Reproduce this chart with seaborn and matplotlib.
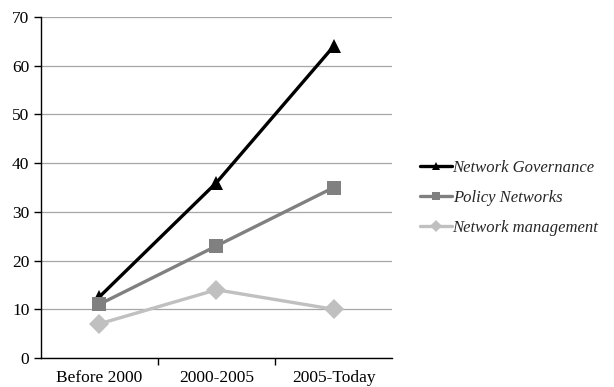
import pandas as pd
import matplotlib
matplotlib.use("Agg")
import matplotlib.pyplot as plt
import seaborn as sns

# ==================== DATA ====================

periods = ["Before 2000", "2000-2005", "2005-Today"]
series_names = ["Network Governance", "Policy Networks", "Network management"]
network_governance = [12.5, 36, 64]
policy_networks = [11, 23, 35]
network_management = [7, 14, 10]

colors = ["#000000", "#808080", "#c0c0c0"]
markers = ["^", "s", "D"]

rows = []
for name, vals in zip(series_names, [network_governance, policy_networks, network_management]):
    for i, v in enumerate(vals):
        rows.append({"period": i, "series": name, "value": v})
df = pd.DataFrame(rows)

# ==================== PLOT ====================

sns.set_style("white")
plt.rcParams["font.family"] = ["Liberation Serif", "DejaVu Serif"]
plt.rcParams["font.size"] = 12.5

fig = plt.figure(figsize=(6.14, 3.87), dpi=100)
ax = fig.add_axes([0.066, 0.075, 0.573, 0.881])

sns.lineplot(data=df, x="period", y="value", hue="series", style="series",
             hue_order=series_names, style_order=series_names,
             palette=colors, markers=markers, dashes=False,
             linewidth=2.4, markersize=10, markeredgewidth=0, ax=ax)

ax.set_xlim(-0.5, 2.5)
ax.set_ylim(0, 70)
ax.set_yticks(range(0, 71, 10))
ax.set_xticks(range(len(periods)))
ax.set_xticklabels(periods)
ax.set_xticks([0.5, 1.5], minor=True)
ax.tick_params(axis="x", which="major", bottom=True, length=0, pad=9, labelsize=12.5, colors="black")
ax.tick_params(axis="x", which="minor", bottom=True, length=5, width=1, color="black", direction="out")
ax.tick_params(axis="y", left=True, length=5, width=1, color="black", direction="out", pad=3,
               labelsize=12.5, labelcolor="black")
ax.yaxis.grid(True, color="#a6a6a6", linewidth=0.9)
ax.set_axisbelow(True)
ax.set_xlabel("")
ax.set_ylabel("")

for side in ["top", "right"]:
    ax.spines[side].set_visible(False)
for side in ["left", "bottom"]:
    ax.spines[side].set_color("black")
    ax.spines[side].set_linewidth(1)

handles, labels = ax.get_legend_handles_labels()
ax.legend(handles, labels, loc="center left", bbox_to_anchor=(1.06, 0.47),
          frameon=False, prop={"style": "italic", "size": 12},
          handlelength=1.9, handletextpad=0.05, labelspacing=0.85, borderaxespad=0,
          markerscale=0.6)

fig.savefig("out.png", dpi=100)
